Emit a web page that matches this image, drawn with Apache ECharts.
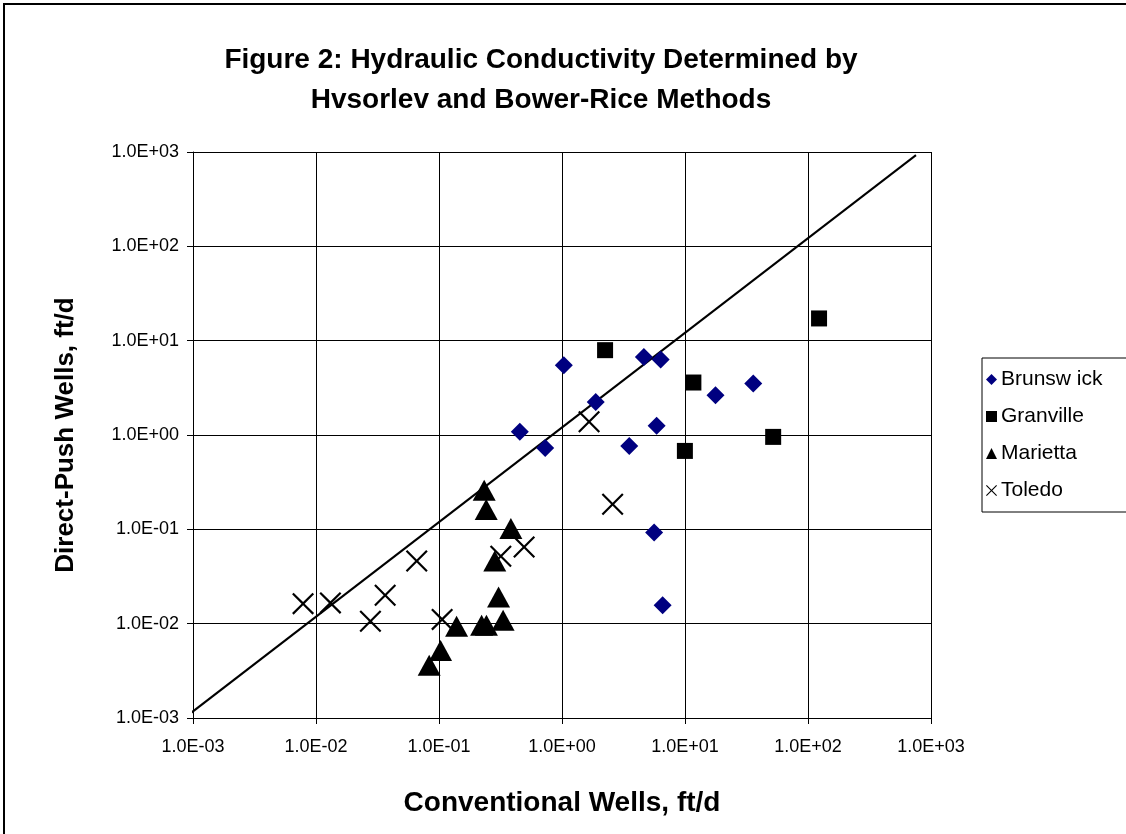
<!DOCTYPE html>
<html>
<head>
<meta charset="utf-8">
<title>Figure 2</title>
<script src="https://cdn.jsdelivr.net/npm/echarts@6/dist/echarts.min.js"></script>
<style>
  html, body { margin: 0; padding: 0; background: #fff; }
  #chart { width: 1126px; height: 834px; }
</style>
</head>
<body>
<div id="chart"></div>
<script>
// [conventional, direct-push] pairs, ft/d
const brunswick = [
  [1.035, 5.5], [4.63, 6.73], [6.34, 6.32], [1.88, 2.24], [0.454, 1.08], [0.73, 0.729],
  [3.52, 0.766], [5.88, 1.25], [17.7, 2.64], [35.9, 3.52], [5.61, 0.0925], [6.58, 0.0157]
]
const granville = [
  [2.24, 7.93], [11.7, 3.6], [52.1, 0.955], [9.98, 0.678], [123, 17.2]
]
const marietta = [
  [0.233, 0.26], [0.242, 0.162], [0.384, 0.102], [0.284, 0.0462], [0.305, 0.0192],
  [0.332, 0.0109], [0.139, 0.0094], [0.222, 0.0096], [0.243, 0.0096], [0.103, 0.0052],
  [0.0832, 0.00362]
]
const toledo = [
  [0.00785, 0.0163], [0.0131, 0.0166], [0.0277, 0.0106], [0.0365, 0.02], [0.0659, 0.0462],
  [0.106, 0.0111], [0.318, 0.0519], [0.492, 0.065], [1.66, 1.38], [2.58, 0.1846]
]
const referenceLine = [[0.000805, 0.000946], [755, 927]]
const seriesNames = ['Brunsw ick', 'Granville', 'Marietta', 'Toledo']

const xMark = 'path://M1.4,0 L10,8.6 L18.6,0 L20,1.4 L11.4,10 L20,18.6 L18.6,20 L10,11.4 L1.4,20 L0,18.6 L8.6,10 L0,1.4 Z'
const font = 'Liberation Sans, Arial, sans-serif'

function sci(v) {
  const e = Math.round(Math.log10(v))
  return '1.0E' + (e < 0 ? '-' : '+') + String(Math.abs(e)).padStart(2, '0')
}

const logAxis = (extra) => ({
  type: 'log',
  logBase: 10,
  min: 0.001,
  max: 1000,
  interval: 1,
  axisLine: { show: true, lineStyle: { color: '#000', width: 1 } },
  axisTick: { show: true, length: 6, lineStyle: { color: '#000' } },
  splitLine: { show: true, lineStyle: { color: '#000', width: 1 } },
  minorTick: { show: false },
  minorSplitLine: { show: false },
  nameLocation: 'middle',
  ...extra
})

const chart = echarts.init(document.getElementById('chart'), null, { renderer: 'canvas' })
chart.setOption({
  backgroundColor: '#fff',
  animation: false,
  title: {
    text: 'Figure 2: Hydraulic Conductivity Determined by\nHvsorlev and Bower-Rice Methods',
    left: 536,
    top: 35,
    textAlign: 'center',
    textStyle: { color: '#000', fontSize: 28, fontWeight: 'bold', fontFamily: font, lineHeight: 40 }
  },
  grid: { left: 193, top: 152, width: 738, height: 566, containLabel: false },
  xAxis: logAxis({
    name: 'Conventional Wells, ft/d',
    nameGap: 71,
    nameTextStyle: { color: '#000', fontSize: 28, fontWeight: 'bold', fontFamily: font },
    axisLabel: { color: '#000', fontSize: 18, fontFamily: font, formatter: sci, margin: 20 }
  }),
  yAxis: logAxis({
    name: 'Direct-Push Wells, ft/d',
    nameGap: 114,
    nameRotate: 90,
    nameTextStyle: { color: '#000', fontSize: 26, fontWeight: 'bold', fontFamily: font },
    axisLabel: { color: '#000', fontSize: 18, fontFamily: font, formatter: sci, margin: 14 }
  }),
  legend: {
    orient: 'vertical',
    left: 982,
    top: 358,
    data: seriesNames,
    backgroundColor: '#fff',
    borderColor: '#000',
    borderWidth: 1,
    padding: [11, 40, 11, 4],
    itemGap: 16,
    itemWidth: 11,
    itemHeight: 11,
    textStyle: { color: '#000', fontSize: 21, fontFamily: font, padding: [0, 0, 0, -1] }
  },
  series: [
    {
      type: 'line',
      data: referenceLine,
      symbol: 'none',
      clip: false,
      silent: true,
      lineStyle: { color: '#000', width: 2 },
      z: 1
    },
    {
      name: seriesNames[0], type: 'scatter', data: brunswick,
      symbol: 'diamond', symbolSize: 18,
      itemStyle: { color: '#000080', opacity: 1 }, z: 3
    },
    {
      name: seriesNames[1], type: 'scatter', data: granville,
      symbol: 'rect', symbolSize: 16,
      itemStyle: { color: '#000', opacity: 1 }, z: 3
    },
    {
      name: seriesNames[2], type: 'scatter', data: marietta,
      symbol: 'triangle', symbolSize: [23, 21],
      itemStyle: { color: '#000', opacity: 1 }, z: 3
    },
    {
      name: seriesNames[3], type: 'scatter', data: toledo,
      symbol: xMark, symbolSize: 22,
      itemStyle: { color: '#000', opacity: 1 }, z: 3
    }
  ],
  graphic: [
    {
      type: 'rect',
      shape: { x: 4, y: 4, width: 1140, height: 850 },
      style: { fill: 'none', stroke: '#000', lineWidth: 2 },
      silent: true
    }
  ]
})
</script>
</body>
</html>
